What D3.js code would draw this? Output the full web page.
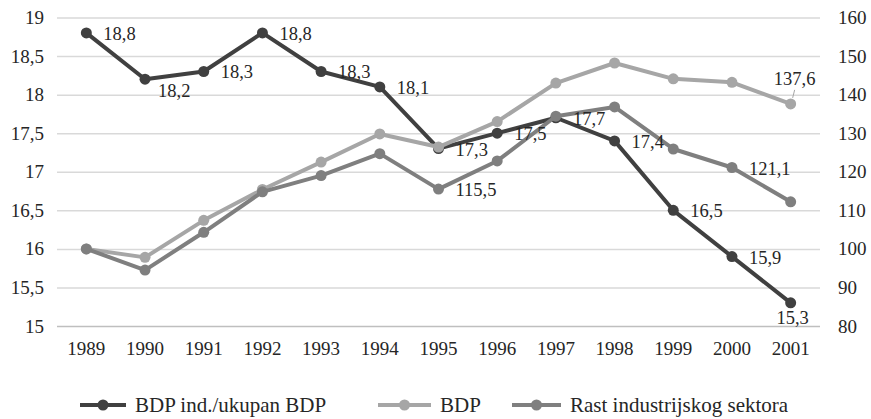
<!DOCTYPE html>
<meta charset="utf-8">
<style>

body {
  margin: 0;
  background: #fff;
}

svg, svg text, svg .tick text {
  font-family: "Liberation Serif", "DejaVu Serif", serif !important;
  fill: #262626;
}

.tick text {
  font-size: 19px;
}

.grid line {
  stroke: #d9d9d9;
  stroke-width: 1.5;
}

.lbl {
  font-size: 18.5px;
}

.legend text {
  font-size: 21px;
}

</style>
<body>
<script src="https://d3js.org/d3.v7.min.js"></script>
<script>

var years = ["1989", "1990", "1991", "1992", "1993", "1994", "1995", "1996", "1997", "1998", "1999", "2000", "2001"];

// BDP ind./ukupan BDP (left axis)
var udio = [18.8, 18.2, 18.3, 18.8, 18.3, 18.1, 17.3, 17.5, 17.7, 17.4, 16.5, 15.9, 15.3];
// BDP (right axis)
var bdp = [100, 97.8, 107.4, 115.4, 122.5, 129.8, 126.4, 133, 143, 148.2, 144.1, 143.2, 137.6];
// Rast industrijskog sektora (right axis)
var rast = [100, 94.5, 104.3, 114.8, 119, 124.7, 115.5, 122.8, 134.4, 136.8, 125.9, 121.1, 112.2];

var leftTicks = [15, 15.5, 16, 16.5, 17, 17.5, 18, 18.5, 19];
var rightTicks = [80, 90, 100, 110, 120, 130, 140, 150, 160];

var seriesNames = ["BDP ind./ukupan BDP", "BDP", "Rast industrijskog sektora"];

var width = 871, height = 419;
var plot = {left: 57, right: 820, top: 17.5, bottom: 326};

var fmt = function(d) { return String(d).replace(".", ","); };

var svg = d3.select("body").append("svg")
    .attr("width", width)
    .attr("height", height)
    .attr("font-family", "Liberation Serif, serif");

var x = d3.scaleBand()
    .domain(years)
    .range([plot.left, plot.right]);

var yL = d3.scaleLinear()
    .domain([15, 19])
    .range([plot.bottom, plot.top]);

var yR = d3.scaleLinear()
    .domain([80, 160])
    .range([plot.bottom, plot.top]);

var cx = function(i) { return x(years[i]) + x.bandwidth() / 2; };

// gridlines + left axis
var gLeft = svg.append("g")
    .attr("class", "grid")
    .attr("transform", "translate(" + plot.left + ",0)")
    .call(d3.axisLeft(yL).tickValues(leftTicks).tickFormat(fmt)
      .tickSizeInner(-(plot.right - plot.left)).tickSizeOuter(0).tickPadding(13));
gLeft.select(".domain").remove();
gLeft.selectAll(".tick line").filter(function(d) { return d === 15; })
    .style("stroke", "#bfbfbf");

var gRight = svg.append("g")
    .attr("transform", "translate(" + plot.right + ",0)")
    .call(d3.axisRight(yR).tickValues(rightTicks).tickSize(0).tickPadding(18));
gRight.select(".domain").remove();

var gX = svg.append("g")
    .attr("transform", "translate(0," + plot.bottom + ")")
    .call(d3.axisBottom(x).tickSize(0).tickPadding(16));
gX.select(".domain").remove();

svg.selectAll("g").attr("font-family", null).attr("font-size", null);

var series = [
  {name: seriesNames[0], values: udio, y: yL, color: "#404040"},
  {name: seriesNames[1], values: bdp, y: yR, color: "#a6a6a6"},
  {name: seriesNames[2], values: rast, y: yR, color: "#7f7f7f"}
];

series.forEach(function(s) {
  var line = d3.line()
      .x(function(d, i) { return cx(i); })
      .y(function(d) { return s.y(d); });

  svg.append("path")
      .datum(s.values)
      .attr("fill", "none")
      .attr("stroke", s.color)
      .attr("stroke-width", 4)
      .attr("stroke-linejoin", "round")
      .attr("d", line);

  svg.append("g").selectAll("circle")
      .data(s.values)
    .enter().append("circle")
      .attr("cx", function(d, i) { return cx(i); })
      .attr("cy", function(d) { return s.y(d); })
      .attr("r", 5.5)
      .attr("fill", s.color);
});

// data labels: [series index, point index, placement]
var labels = [
  [0, 0, "r"], [0, 1, "br"], [0, 2, "r"], [0, 3, "r"], [0, 4, "r"], [0, 5, "r"],
  [0, 6, "r"], [0, 7, "r"], [0, 8, "r"], [0, 9, "r"], [0, 10, "r"], [0, 11, "r"],
  [0, 12, "b"], [1, 12, "t"], [2, 6, "r"], [2, 11, "r"]
];

labels.forEach(function(l) {
  var s = series[l[0]], i = l[1], pos = l[2];
  var px = cx(i), py = s.y(s.values[i]);
  var t = svg.append("text")
      .attr("class", "lbl")
      .text(fmt(s.values[i]));
  if (pos === "r") {
    t.attr("x", px + 17).attr("y", py + 7);
  } else if (pos === "br") {
    t.attr("x", px + 13).attr("y", py + 18);
  } else if (pos === "b") {
    t.attr("x", px + 2).attr("y", py + 21).attr("text-anchor", "middle");
  } else if (pos === "t") {
    t.attr("x", px + 4).attr("y", py - 19).attr("text-anchor", "middle");
    svg.append("line")
        .attr("x1", px + 4).attr("y1", py - 14)
        .attr("x2", px + 2).attr("y2", py - 6)
        .attr("stroke", s.color)
        .attr("stroke-width", 1);
  }
});

// legend
var legendPos = [{lx: 80, tx: 135}, {lx: 378, tx: 440}, {lx: 512, tx: 570}];
var legendY = 405;

var legend = svg.append("g")
    .attr("class", "legend")
    .selectAll("g")
    .data(series)
  .enter().append("g");

legend.append("line")
    .attr("x1", function(d, i) { return legendPos[i].lx; })
    .attr("x2", function(d, i) { return legendPos[i].tx - 9; })
    .attr("y1", legendY).attr("y2", legendY)
    .attr("stroke", function(d) { return d.color; })
    .attr("stroke-width", 4);

legend.append("circle")
    .attr("cx", function(d, i) { return (legendPos[i].lx + legendPos[i].tx - 9) / 2; })
    .attr("cy", legendY)
    .attr("r", 5.5)
    .attr("fill", function(d) { return d.color; });

legend.append("text")
    .attr("x", function(d, i) { return legendPos[i].tx; })
    .attr("y", legendY)
    .attr("dy", "0.35em")
    .text(function(d) { return d.name; });

</script>
